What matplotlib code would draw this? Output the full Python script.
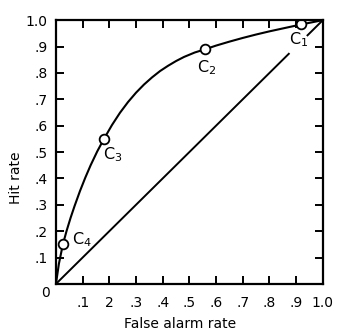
import matplotlib
matplotlib.use("Agg")
import matplotlib.pyplot as plt

# ROC curve (false alarm rate, hit rate)
curve_fa = [0.0, 0.011, 0.026, 0.04, 0.055, 0.07, 0.09, 0.11, 0.13, 0.155,
            0.18, 0.21, 0.24, 0.27, 0.30, 0.33, 0.36, 0.39, 0.42, 0.45,
            0.48, 0.52, 0.56, 0.60, 0.65, 0.70, 0.75, 0.80, 0.86, 0.92,
            0.96, 1.0]
curve_hit = [0.0, 0.076, 0.15, 0.2015, 0.251, 0.296, 0.352, 0.403, 0.45, 0.503,
             0.55, 0.6025, 0.649, 0.6895, 0.725, 0.756, 0.783, 0.807, 0.827, 0.845,
             0.8606, 0.8774, 0.89, 0.9036, 0.9186, 0.9326, 0.9456, 0.9576, 0.9708, 0.984,
             0.992, 1.0]

# criterion points C1..C4
crit_names = ["C$_1$", "C$_2$", "C$_3$", "C$_4$"]
crit_fa = [0.92, 0.56, 0.18, 0.026]
crit_hit = [0.984, 0.89, 0.55, 0.15]
label_fa = [0.872, 0.528, 0.176, 0.062]
label_hit = [0.925, 0.82, 0.49, 0.167]

# chance diagonal, broken where the C1 label sits
diag_pieces = [(0.0, 0.875), (0.94, 1.0)]

tick_vals = [0.1, 0.2, 0.3, 0.4, 0.5, 0.6, 0.7, 0.8, 0.9, 1.0]
x_labels = [".1", "2", ".3", ".4", ".5", ".6", ".7", ".8", ".9", "1.0"]
y_labels = [".1", ".2", ".3", ".4", ".5", ".6", ".7", ".8", ".9", "1.0"]


def main():
    plt.rcParams["font.family"] = "DejaVu Sans"
    fig = plt.figure(figsize=(3.37, 3.36), dpi=100)
    ax = fig.add_axes([0.166, 0.155, 0.792, 0.785])

    for a, b in diag_pieces:
        ax.plot([a, b], [a, b], color="black", lw=1.4, solid_capstyle="butt")
    ax.plot(curve_fa, curve_hit, color="black", lw=1.5, solid_joinstyle="round")
    ax.plot(crit_fa, crit_hit, "o", ms=7, mfc="white", mec="black", mew=1.3)
    for name, x, y in zip(crit_names, label_fa, label_hit):
        ax.text(x, y, name, fontsize=11.5, ha="left", va="center")

    ax.set_xlim(0, 1)
    ax.set_ylim(0, 1)
    ax.set_xticks(tick_vals)
    ax.set_xticklabels(x_labels, fontsize=10)
    ax.set_yticks(tick_vals)
    ax.set_yticklabels(y_labels, fontsize=10)
    ax.tick_params(axis="both", direction="in", length=6, width=1.4,
                   top=True, right=True)
    ax.tick_params(axis="x", pad=9)
    ax.tick_params(axis="y", pad=6)
    for s in ax.spines.values():
        s.set_linewidth(1.6)

    fig.text(45 / 337, 1 - 293 / 336, "0", fontsize=10, ha="center", va="center")
    fig.text(16 / 337, 1 - 178 / 336, "Hit rate", fontsize=10, rotation=90,
             ha="center", va="center")
    fig.text(180 / 337, 1 - 324 / 336, "False alarm rate", fontsize=10,
             ha="center", va="center")

    fig.savefig("out.png", dpi=100)


if __name__ == '__main__':
    main()
